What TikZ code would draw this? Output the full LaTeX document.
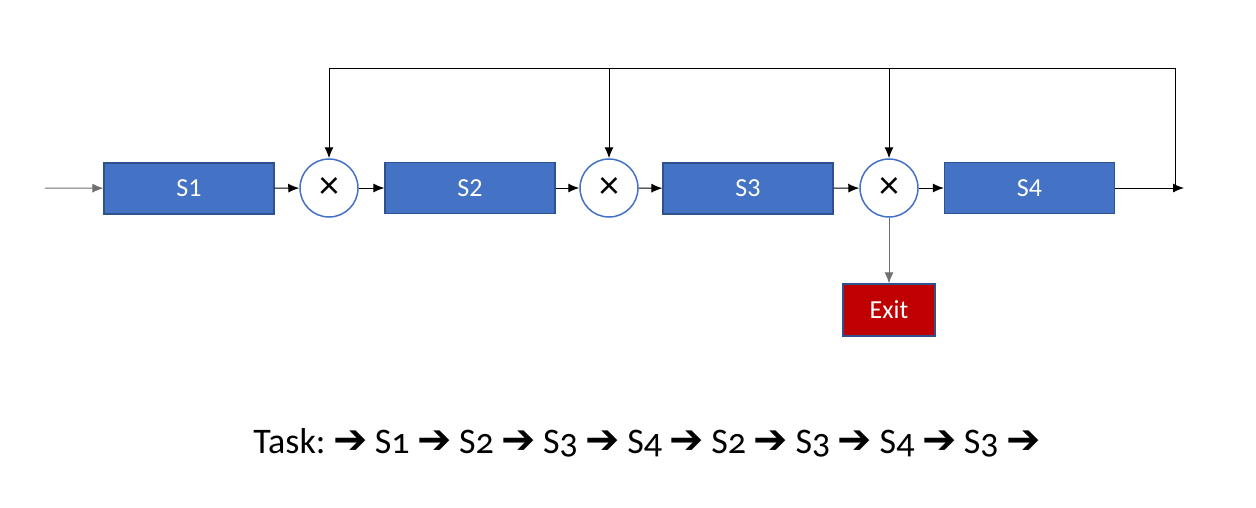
\documentclass[tikz,border=0pt]{standalone}
\usepackage{fontspec}
\setmainfont{Carlito}
\newfontfamily\taskfont[Numbers=OldStyle]{Carlito}
\newfontfamily\symfont{DejaVu Sans}
\usetikzlibrary{arrows.meta}
\definecolor{boxblue}{HTML}{4472C4}
\definecolor{boxedge}{HTML}{2F528F}
\definecolor{exitred}{HTML}{C00000}
\definecolor{linegray}{HTML}{6F6F6F}
\newcommand{\tarr}{{\symfont\fontsize{41}{41}\selectfont ➔}}
\newcommand{\tg}{\hspace{7.5pt}}
\begin{document}
\begin{tikzpicture}[x=1pt,y=-1pt,
  stage/.style={draw=boxedge,line width=1.2pt,fill=boxblue,text=white,minimum width=170pt,minimum height=51pt,inner sep=0pt,font=\fontsize{26}{30}\selectfont},
  mult/.style={circle,draw=boxblue,line width=1.5pt,fill=white,minimum size=58pt,inner sep=0pt,font=\fontsize{40}{40}\selectfont},
  exitbox/.style={draw=boxedge,line width=1.2pt,fill=exitred,text=white,minimum width=92pt,minimum height=52pt,inner sep=0pt,font=\fontsize{26}{30}\selectfont},
  arr/.style={line width=1pt,-{Latex[length=11pt,width=9pt]}},
  ln/.style={line width=1pt}]
\useasboundingbox (0,0) rectangle (1256,507);
\node[stage] (S1) at (189,188.5) {S1};
\node[stage] (S2) at (470,188) {S2};
\node[stage] (S3) at (748,188.5) {S3};
\node[stage] (S4) at (1029.5,188) {S4};
\node[mult] (c1) at (329,188) {×};
\node[mult] (c2) at (609,188) {×};
\node[mult] (c3) at (889,188) {×};
\node[exitbox] (exit) at (889,310) {Exit};
\coordinate (in) at (45,188);
\coordinate (t1) at (329,68);
\coordinate (t2) at (609,68);
\coordinate (t3) at (889,68);
\coordinate (rt) at (1175,68);
\coordinate (rb) at (1175,188);
\coordinate (out) at (1184,188);
\draw[arr,draw=linegray] (in) -- (S1);
\draw[arr] (S1) -- (c1);
\draw[arr] (c1) -- (S2);
\draw[arr] (S2) -- (c2);
\draw[arr] (c2) -- (S3);
\draw[arr] (S3) -- (c3);
\draw[arr] (c3) -- (S4);
\draw[arr] (S4.east) -- (out);
\draw[ln] (rb) -- (rt) -- (t1);
\draw[arr] (t1) -- (c1);
\draw[arr] (t2) -- (c2);
\draw[arr] (t3) -- (c3);
\draw[arr,draw=linegray] (c3) -- (exit);
\node[font=\taskfont\fontsize{36}{40}\selectfont,inner sep=0pt,anchor=base] (task) at (647,453)
 {Task:\tg\tarr\tg S1\tg\tarr\tg S2\tg\tarr\tg S3\tg\tarr\tg S4\tg\tarr\tg S2\tg\tarr\tg S3\tg\tarr\tg S4\tg\tarr\tg S3\tg\tarr};
\end{tikzpicture}
\end{document}
